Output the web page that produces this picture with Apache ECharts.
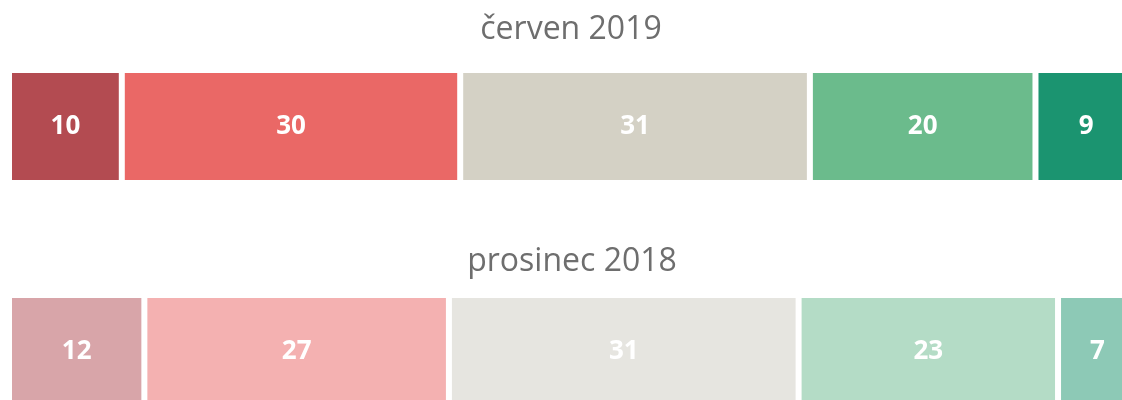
<!DOCTYPE html>
<html lang="cs">
<head>
  <meta charset="UTF-8">
  <title>červen 2019 / prosinec 2018</title>
  <script src="https://cdn.jsdelivr.net/npm/echarts@6/dist/echarts.min.js"></script>
  <style>
    html, body { margin: 0; padding: 0; background: #fff; }
    #chart { width: 1122px; height: 400px; }
  </style>
</head>
<body>
  <div id="chart"></div>
  <script>
    // data
    var periods = ['červen 2019', 'prosinec 2018']
    var valuesJun2019 = [10, 30, 31, 20, 9]
    var valuesDec2018 = [12, 27, 31, 23, 7]
    var colorsJun2019 = ['#b34b51', '#ea6866', '#d4d1c5', '#6bbb8c', '#1b9470']
    var colorsDec2018 = ['#d8a5a9', '#f4b1b1', '#e6e5e0', '#b4dcc6', '#8dc9b6']

    var font = '"Open Sans", "DejaVu Sans", sans-serif'

    // one stacked row per period, each in its own grid
    function rowSeries(values, colors, gridIdx) {
      return values.map(function (v, i) {
        return {
          type: 'bar',
          stack: 'row' + gridIdx,
          xAxisIndex: gridIdx,
          yAxisIndex: gridIdx,
          barCategoryGap: '0%',
          data: [v],
          // border is drawn inside the bar -> 3px each side = 6px white gap
          itemStyle: { color: colors[i], borderColor: '#fff', borderWidth: 3 },
          label: {
            show: true,
            position: 'inside',
            color: '#fff',
            fontFamily: font,
            fontWeight: 'bold',
            fontSize: 26
          },
          silent: true
        }
      })
    }

    // bars run off the right and bottom edge, like the reference crop
    var grids = [
      { left: 9, top: 70, width: 1128, height: 113, outerBoundsMode: 'none' },
      { left: 9, top: 295, width: 1128, height: 113, outerBoundsMode: 'none' }
    ]

    var titleStyle = { fontFamily: font, fontWeight: 'normal', fontSize: 32, color: '#6e6e6e' }

    var option = {
      animation: false,
      title: [
        { text: periods[0], left: 566, top: 9, textAlign: 'center', textStyle: titleStyle },
        { text: periods[1], left: 567, top: 241, textAlign: 'center', textStyle: titleStyle }
      ],
      grid: grids,
      xAxis: [0, 1].map(function (g) {
        return { type: 'value', gridIndex: g, min: 0, max: 100, show: false }
      }),
      yAxis: [0, 1].map(function (g) {
        return { type: 'category', gridIndex: g, data: [periods[g]], show: false }
      }),
      series: rowSeries(valuesJun2019, colorsJun2019, 0)
        .concat(rowSeries(valuesDec2018, colorsDec2018, 1))
    }

    var mCharts = echarts.init(document.getElementById('chart'))
    mCharts.setOption(option)
  </script>
</body>
</html>
